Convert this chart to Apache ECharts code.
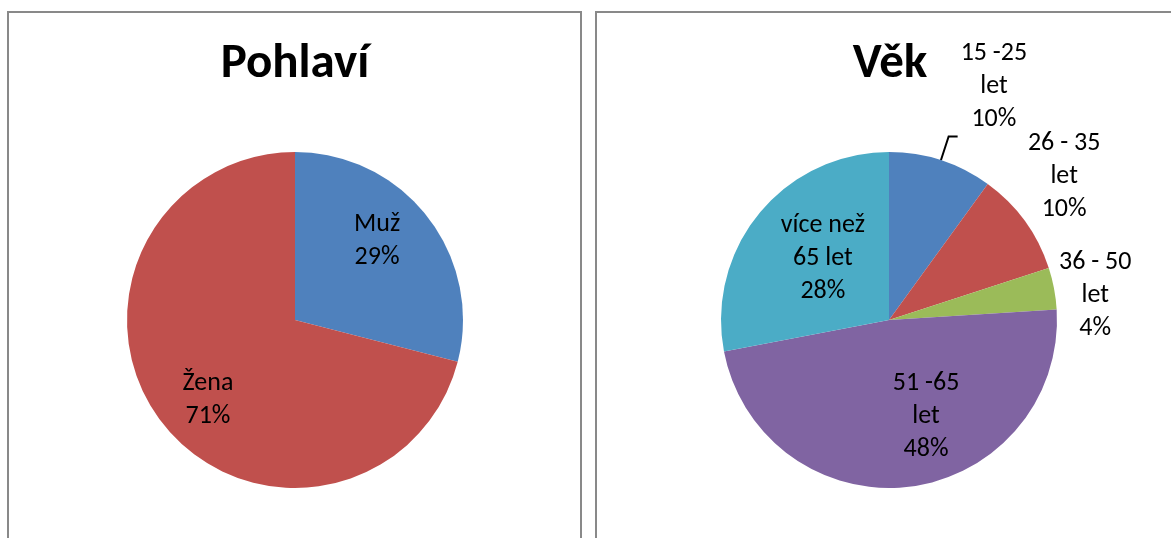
<!DOCTYPE html>
<html>
<head>
<meta charset="utf-8">
<script src="https://cdn.jsdelivr.net/npm/echarts@6/dist/echarts.min.js"></script>
<style>
  html, body { margin: 0; padding: 0; background: #fff; }
  #chart { width: 1171px; height: 538px; }
</style>
</head>
<body>
<div id="chart"></div>
<script>
// Pohlaví
const sexNames = ['Muž', 'Žena']
const sexValues = [29, 71]
const sexColors = ['#4F81BD', '#C0504D']

// Věk
const ageNames = ['15 -25 let', '26 - 35 let', '36 - 50 let', '51 -65 let', 'více než 65 let']
const ageLabelLines = [['15 -25', 'let'], ['26 - 35', 'let'], ['36 - 50', 'let'], ['51 -65', 'let'], ['více než', '65 let']]
const ageValues = [10, 10, 4, 48, 28]
const ageColors = ['#4F81BD', '#C0504D', '#9BBB59', '#8064A2', '#4BACC6']
const ageOutside = [true, true, true, false, false]

const font = 'Calibri, Carlito, "Open Sans", "Liberation Sans", sans-serif'
const R = 168

// small label nudges (Excel "best fit" placement)
const sexLabelShift = [[-8, -9], [3, 10]]
const ageLabelShift = [[0, 0], [0, 5], [2, 7], [24, -7], [14, 5]]

const pct = (v, arr) => Math.round(v / arr.reduce((a, b) => a + b, 0) * 100) + '%'

const labelText = function(lines, p) {
  return lines.concat([p]).map(s => '{a|' + s + '}').join('\n')
}

const labelStyle = {
  color: '#000',
  fontFamily: font,
  fontSize: 26,
  rich: {
    a: { fontFamily: font, fontSize: 26, lineHeight: 33, align: 'center', color: '#000' }
  }
}

const chart = echarts.init(document.getElementById('chart'))
chart.setOption({
  animation: false,
  title: [
    {
      text: 'Pohlaví', left: 290, top: 35, textAlign: 'center',
      textStyle: { fontFamily: font, fontSize: 49, fontWeight: 'bold', color: '#000' }
    },
    {
      text: 'Věk', left: 885, top: 35, textAlign: 'center',
      textStyle: { fontFamily: font, fontSize: 49, fontWeight: 'bold', color: '#000' }
    }
  ],
  graphic: [
    { type: 'rect', shape: { x: 8, y: 12, width: 573, height: 540 }, style: { fill: 'none', stroke: '#898989', lineWidth: 2 } },
    { type: 'rect', shape: { x: 596, y: 12, width: 600, height: 540 }, style: { fill: 'none', stroke: '#898989', lineWidth: 2 } }
  ],
  series: [
    {
      type: 'pie',
      center: [295, 320],
      radius: [0, R],
      startAngle: 90,
      clockwise: true,
      silent: true,
      label: { show: false },
      labelLine: { show: false },
      data: sexNames.map((n, i) => ({ name: n, value: sexValues[i], itemStyle: { color: sexColors[i] } }))
    },
    {
      // transparent ring, only carries the inside labels
      type: 'pie',
      center: [295, 320],
      radius: [54, R],
      startAngle: 90,
      silent: true,
      itemStyle: { color: 'rgba(0,0,0,0)' },
      label: Object.assign({
        position: 'inside',
        formatter: p => labelText([p.name], pct(p.value, sexValues))
      }, labelStyle),
      labelLine: { show: false },
      labelLayout: params => ({ dx: sexLabelShift[params.dataIndex][0], dy: sexLabelShift[params.dataIndex][1] }),
      data: sexNames.map((n, i) => ({ name: n, value: sexValues[i] }))
    },
    {
      type: 'pie',
      center: [889, 320],
      radius: [0, R],
      startAngle: 90,
      silent: true,
      avoidLabelOverlap: false,
      label: Object.assign({
        position: 'outside',
        distanceToLabelLine: 3,
        formatter: p => labelText(ageLabelLines[p.dataIndex], pct(p.value, ageValues))
      }, labelStyle),
      labelLine: { show: false, length: 0, length2: 0, lineStyle: { color: '#000', width: 2 } },
      labelLayout: function(params) {
        const i = params.dataIndex
        const out = {}
        if (i === 0 || i === 1) out.verticalAlign = 'bottom'
        if (ageLabelShift[i][0] || ageLabelShift[i][1]) {
          out.dx = ageLabelShift[i][0]
          out.dy = ageLabelShift[i][1]
        }
        return out
      },
      data: ageNames.map((n, i) => ({
        name: n,
        value: ageValues[i],
        itemStyle: { color: ageColors[i] },
        label: { show: ageOutside[i] },
        labelLine: i === 0 ? { show: true, length: 25, length2: 9 } : { show: false }
      }))
    },
    {
      type: 'pie',
      center: [889, 320],
      radius: [34, R],
      startAngle: 90,
      silent: true,
      itemStyle: { color: 'rgba(0,0,0,0)' },
      label: Object.assign({
        position: 'inside',
        formatter: p => labelText(ageLabelLines[p.dataIndex], pct(p.value, ageValues))
      }, labelStyle),
      labelLine: { show: false },
      labelLayout: params => ({ dx: ageLabelShift[params.dataIndex][0], dy: ageLabelShift[params.dataIndex][1] }),
      data: ageNames.map((n, i) => ({ name: n, value: ageValues[i], label: { show: !ageOutside[i] } }))
    }
  ]
})
</script>
</body>
</html>
